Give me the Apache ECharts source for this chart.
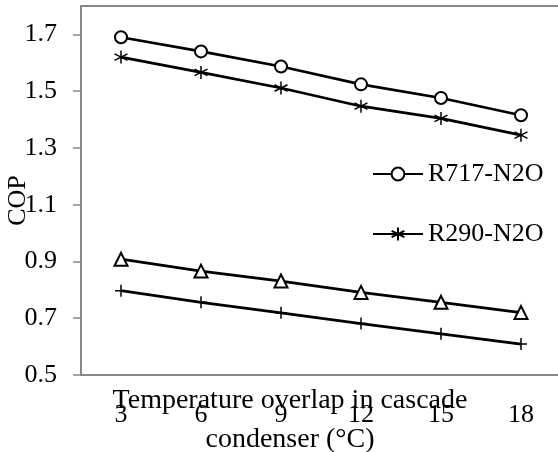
<!DOCTYPE html>
<html>
<head>
<meta charset="utf-8">
<script src="https://cdn.jsdelivr.net/npm/echarts@6/dist/echarts.min.js"></script>
<style>html,body{margin:0;padding:0;background:#fff}#c{width:558px;height:452px}</style>
</head>
<body>
<div id="c"></div>
<script>
var categories = ['3', '6', '9', '12', '15', '18'];
var r717n2o = [1.69, 1.64, 1.587, 1.524, 1.476, 1.415];
var r290n2o = [1.62, 1.566, 1.511, 1.447, 1.404, 1.345];
var seriesTriangle = [0.908, 0.866, 0.831, 0.791, 0.756, 0.72];
var seriesPlus = [0.797, 0.756, 0.719, 0.681, 0.645, 0.609];
var yTicks = [0.5, 0.7, 0.9, 1.1, 1.3, 1.5, 1.7];

var FONT = 'Liberation Serif';
var AX = '#888888';
var starPath = 'path://M0,-6L0,6M-5.2,-3L5.2,3M-5.2,3L5.2,-3';
var plusPath = 'path://M0,-6L0,6M-6,0L6,0';

function mk(name, data, symbol, size) {
  return {
    name: name, type: 'line', data: data, symbol: symbol, symbolSize: size,
    showAllSymbol: true,
    lineStyle: { color: '#000', width: 2.7 },
    itemStyle: { color: '#000', borderColor: '#000', borderWidth: 1.5 },
    emphasis: { disabled: true },
    animation: false
  };
}

var chart = echarts.init(document.getElementById('c'), null, { renderer: 'canvas' });
chart.setOption({
  animation: false,
  backgroundColor: '#fff',
  grid: { left: 81, top: 6, right: -3, bottom: 77, containLabel: false, outerBoundsMode: 'none',
    show: true, borderColor: AX, borderWidth: 2, backgroundColor: 'transparent' },
  legend: {
    data: ['R717-N2O', 'R290-N2O'],
    orient: 'vertical', left: 367, top: 156,
    itemWidth: 50, itemHeight: 16, itemGap: 34,
    textStyle: { fontFamily: FONT, fontSize: 26, color: '#000', padding: [0,0,0,0] },
    selectedMode: false
  },
  xAxis: {
    type: 'category', data: categories, boundaryGap: true,
    name: 'Temperature overlap in cascade\ncondenser (°C)',
    nameLocation: 'middle', nameGap: 6, nameMoveOverlap: false,
    nameTextStyle: { fontFamily: FONT, fontSize: 28, color: '#000', lineHeight: 39, padding: [0, 62, 0, 0] },
    axisLine: { lineStyle: { color: AX, width: 2 } },
    axisTick: { alignWithLabel: true, length: 5, lineStyle: { color: AX, width: 1.5 } },
    axisLabel: { fontFamily: FONT, fontSize: 26, color: '#000', margin: 27 },
    splitLine: { show: false }
  },
  yAxis: {
    type: 'value', min: 0.5, max: 1.8,
    name: 'COP', nameLocation: 'middle', nameGap: 50, nameMoveOverlap: false,
    nameTextStyle: { fontFamily: FONT, fontSize: 26, color: '#000', padding: [0, 20, 0, 0] },
    axisLine: { show: true, lineStyle: { color: AX, width: 2 } },
    axisTick: { show: true, length: 8, customValues: yTicks, lineStyle: { color: AX, width: 1.5 } },
    axisLabel: { fontFamily: FONT, fontSize: 26, color: '#000', margin: 24, customValues: yTicks,
      formatter: function (v) { return v.toFixed(1); } },
    splitLine: { show: false }
  },
  series: [
    mk('R717-N2O', r717n2o, 'emptyCircle', 12),
    mk('R290-N2O', r290n2o, starPath, 13),
    mk('Series 3', seriesTriangle, 'emptyTriangle', 13),
    mk('Series 4', seriesPlus, plusPath, 12)
  ]
});
</script>
</body>
</html>
